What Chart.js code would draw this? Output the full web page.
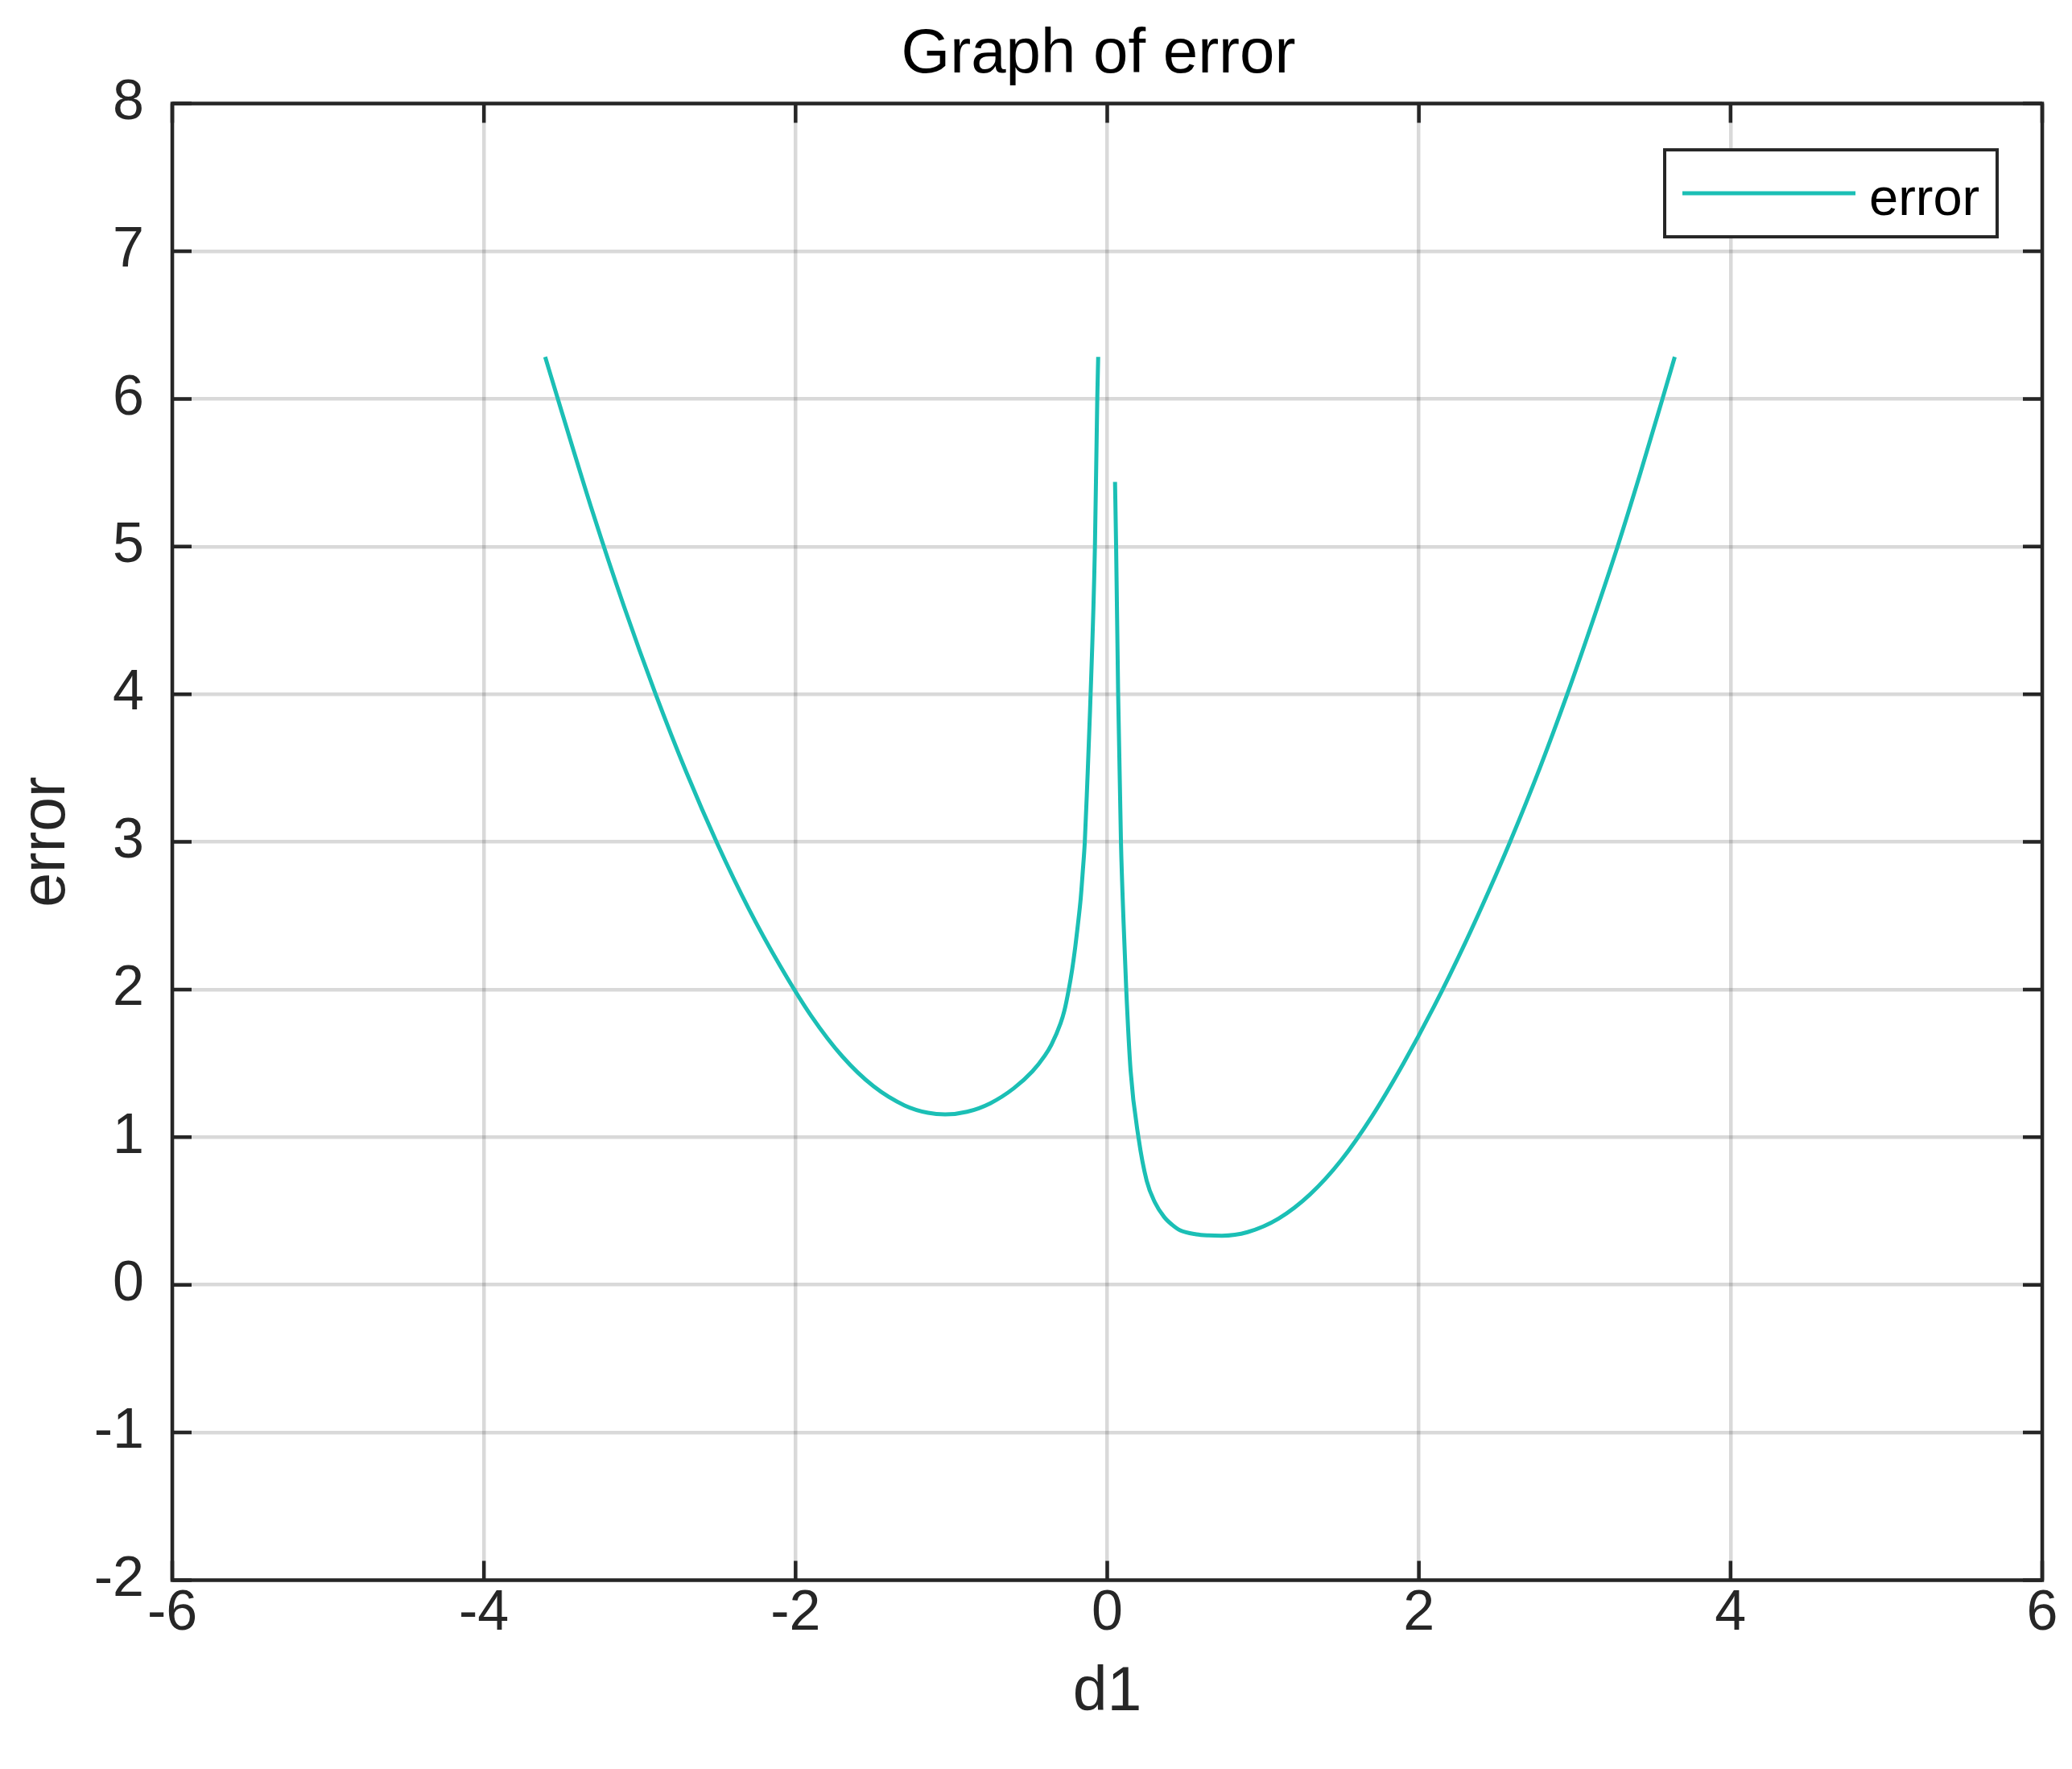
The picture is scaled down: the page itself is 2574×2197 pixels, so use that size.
<!DOCTYPE html>
<html>
<head>
<meta charset="utf-8">
<title>Graph of error</title>
<script src="https://cdn.jsdelivr.net/npm/chart.js@4.4.1/dist/chart.umd.min.js"></script>
<style>
  html, body { margin: 0; padding: 0; background: #fff; }
  canvas { display: block; }
</style>
</head>
<body>
<canvas id="chart-error" width="2574" height="2197"></canvas>
<script>
var X_TICKS = [-6, -4, -2, 0, 2, 4, 6]
var Y_TICKS = [-2, -1, 0, 1, 2, 3, 4, 5, 6, 7, 8]

// branch for d1 < 0
var LEFT_D1 = [-3.607, -3.5, -3.3, -3.1, -2.9, -2.7, -2.5, -2.3, -2.1, -1.9,
  -1.7, -1.5, -1.3, -1.15, -1.04, -0.9, -0.75, -0.6, -0.48, -0.40,
  -0.358, -0.30, -0.275, -0.247, -0.225, -0.205, -0.19, -0.170, -0.157, -0.144,
  -0.128, -0.110, -0.079, -0.064, -0.058]
var LEFT_ERROR = [6.284, 5.911, 5.226, 4.591, 4.006, 3.469, 2.983, 2.546, 2.162, 1.822,
  1.547, 1.345, 1.215, 1.165, 1.154, 1.172, 1.230, 1.331, 1.446, 1.553,
  1.627, 1.77, 1.857, 2.0, 2.137, 2.29, 2.423, 2.62, 2.80, 3.0,
  3.40, 3.90, 5.0, 6.0, 6.284]

// branch for d1 > 0
var RIGHT_D1 = [0.050, 0.057, 0.070, 0.088, 0.105, 0.122, 0.150, 0.201, 0.253, 0.305,
  0.365, 0.415, 0.468, 0.572, 0.65, 0.735, 0.9, 1.1, 1.3, 1.5,
  1.7, 1.9, 2.1, 2.3, 2.45, 2.585, 2.776, 2.952, 3.117, 3.275,
  3.422, 3.563, 3.642]
var RIGHT_ERROR = [5.438, 5.0, 4.0, 3.0, 2.45, 2.0, 1.45, 0.994, 0.705, 0.56,
  0.46, 0.408, 0.369, 0.342, 0.335, 0.333, 0.357, 0.449, 0.611, 0.842,
  1.143, 1.498, 1.891, 2.322, 2.670, 3.0, 3.5, 4.0, 4.5, 5.0,
  5.5, 6.0, 6.284]

var LINE_COLOR = '#1bbfb5'
var AXIS_COLOR = '#262626'
var GRID_COLOR = 'rgba(0,0,0,0.15)'
var FONT = '"Liberation Sans", Arial, Helvetica, sans-serif'

var points = []
LEFT_D1.forEach(function (x, i) { points.push({ x: x, y: LEFT_ERROR[i] }) })
points.push({ x: 0, y: null }) // break the line between the two branches
RIGHT_D1.forEach(function (x, i) { points.push({ x: x, y: RIGHT_ERROR[i] }) })

Chart.defaults.font.family = FONT

// matlab style box, inward ticks and the legend inside the axes
var matlabFrame = {
  id: 'matlabFrame',
  afterLayout: function (chart) {
    // matlab puts the title a little left of the axes centre
    if (chart.titleBlock) {
      chart.titleBlock.left -= 11
      chart.titleBlock.right -= 11
    }
  },
  afterDraw: function (chart) {
    var ctx = chart.ctx
    var a = chart.chartArea
    var xs = chart.scales.x
    var ys = chart.scales.y
    var tick = 24

    ctx.save()
    ctx.strokeStyle = AXIS_COLOR
    ctx.lineWidth = 4.5
    ctx.beginPath()
    xs.ticks.forEach(function (t) {
      var px = xs.getPixelForValue(t.value)
      ctx.moveTo(px, a.bottom)
      ctx.lineTo(px, a.bottom - tick)
      ctx.moveTo(px, a.top)
      ctx.lineTo(px, a.top + tick)
    })
    ys.ticks.forEach(function (t) {
      var py = ys.getPixelForValue(t.value)
      ctx.moveTo(a.left, py)
      ctx.lineTo(a.left + tick, py)
      ctx.moveTo(a.right, py)
      ctx.lineTo(a.right - tick, py)
    })
    ctx.stroke()
    ctx.strokeRect(a.left, a.top, a.right - a.left, a.bottom - a.top)

    // legend
    var ds = chart.data.datasets[0]
    var w = 413
    var h = 108
    var lx = a.right - 56 - w
    var ly = a.top + 57.5
    ctx.fillStyle = '#fff'
    ctx.fillRect(lx, ly, w, h)
    ctx.lineWidth = 4
    ctx.strokeRect(lx, ly, w, h)
    ctx.strokeStyle = ds.borderColor
    ctx.lineWidth = ds.borderWidth
    ctx.beginPath()
    ctx.moveTo(lx + 22, ly + 54)
    ctx.lineTo(lx + 237, ly + 54)
    ctx.stroke()
    ctx.fillStyle = '#000'
    ctx.font = '65px ' + FONT
    ctx.textAlign = 'left'
    ctx.textBaseline = 'alphabetic'
    ctx.fillText(ds.label, lx + 254, ly + 81)
    ctx.restore()
  },
}

var ctx = document.getElementById('chart-error').getContext('2d')

var ChartError = new Chart(ctx, {
  type: 'line',
  data: {
    datasets: [
      {
        label: 'error',
        data: points,
        borderColor: LINE_COLOR,
        backgroundColor: LINE_COLOR,
        borderWidth: 5,
        pointRadius: 0,
        fill: false,
        spanGaps: false,
        cubicInterpolationMode: 'monotone',
      },
    ],
  },
  options: {
    responsive: false,
    animation: false,
    devicePixelRatio: 1,
    layout: {
      padding: { top: 0, left: 0, right: 37, bottom: 0 },
    },
    plugins: {
      legend: { display: false },
      tooltip: { enabled: false },
      title: {
        display: true,
        text: 'Graph of error',
        color: '#000',
        fullSize: false,
        font: { size: 78, weight: 'normal', family: FONT },
        padding: { top: 22, bottom: 13 },
      },
    },
    scales: {
      x: {
        type: 'linear',
        position: 'bottom',
        min: -6,
        max: 6,
        z: 1,
        afterBuildTicks: function (scale) {
          scale.ticks = X_TICKS.map(function (v) { return { value: v } })
        },
        afterFit: function (scale) {
          scale.height = 234.5
          scale.paddingLeft = 0
          scale.paddingRight = 0
        },
        grid: {
          color: GRID_COLOR,
          lineWidth: 4.5,
          drawTicks: false,
        },
        border: { display: false },
        ticks: {
          color: AXIS_COLOR,
          padding: 0,
          maxRotation: 0,
          autoSkip: false,
          font: { size: 70, family: FONT },
        },
        title: {
          display: true,
          text: 'd1',
          color: AXIS_COLOR,
          font: { size: 77, family: FONT },
          padding: { top: 0, bottom: 48 },
        },
      },
      y: {
        type: 'linear',
        position: 'left',
        min: -2,
        max: 8,
        z: 1,
        afterBuildTicks: function (scale) {
          scale.ticks = Y_TICKS.map(function (v) { return { value: v } })
        },
        afterFit: function (scale) {
          scale.width = 214
          scale.paddingTop = 0
          scale.paddingBottom = 0
        },
        grid: {
          color: GRID_COLOR,
          lineWidth: 4.5,
          drawTicks: false,
        },
        border: { display: false },
        ticks: {
          color: AXIS_COLOR,
          padding: 35,
          autoSkip: false,
          font: { size: 70, family: FONT },
        },
        title: {
          display: true,
          text: 'error',
          color: AXIS_COLOR,
          font: { size: 77, family: FONT },
          padding: { top: 13, bottom: 0 },
        },
      },
    },
  },
  plugins: [matlabFrame],
})

window.ChartError = ChartError
</script>
</body>
</html>
